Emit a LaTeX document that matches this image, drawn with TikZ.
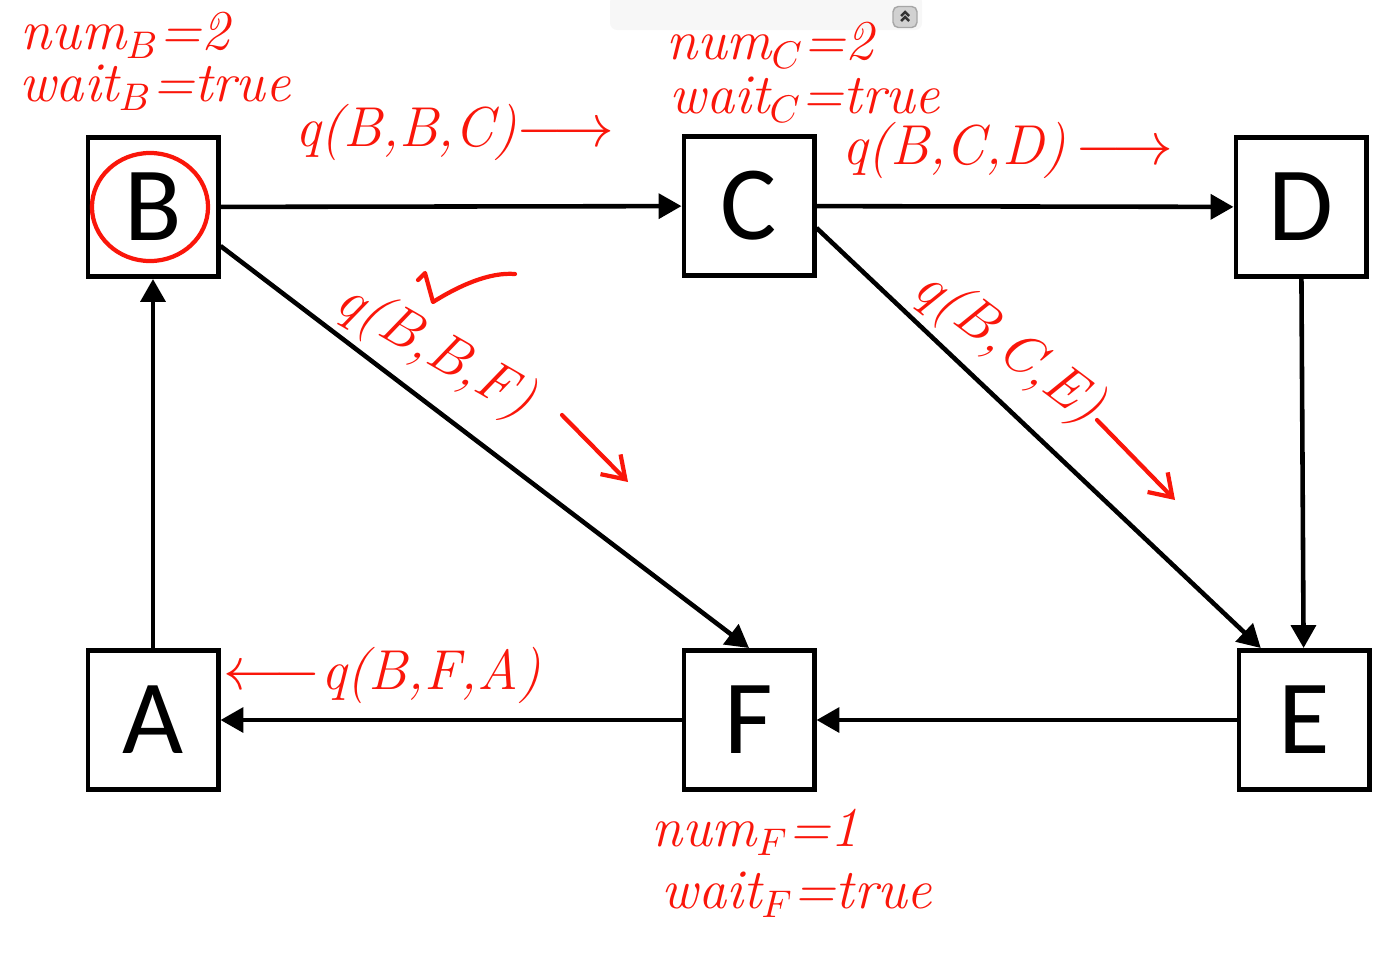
\documentclass[tikz,border=0pt]{standalone}
\usepackage{fontspec}
\newfontfamily\boxfont{Carlito}
\usetikzlibrary{positioning,arrows.meta,shapes.geometric}
\definecolor{ink}{RGB}{250,22,10}
\tikzset{
  vtx/.style={rectangle,draw=black,line width=1.4pt,minimum width=1.3cm,minimum height=1.39cm,
    inner sep=0pt,font=\boxfont\fontsize{30}{32}\selectfont},
  edge/.style={-{Triangle[length=6.5pt,width=7pt]},line width=1.3pt},
  note/.style={text=ink,font=\fontsize{16}{18}\selectfont\itshape,inner sep=0pt,align=left},
  inkline/.style={draw=ink,line width=1.2pt,line cap=round,line join=round},
  inkarr/.style={inkline,-{Straight Barb[length=6pt,width=8pt]}},
  btn/.style={rectangle,rounded corners=1.5pt,draw=black!35,fill=black!18,minimum width=0.24cm,
    minimum height=0.21cm,inner sep=0pt},
}
\begin{document}
\begin{tikzpicture}[x=0.01cm,y=-0.01cm]
  \useasboundingbox (0,0) rectangle (1389,954);
  % toolbar strip
  \fill[black!3,rounded corners=2pt] (610,-5) rectangle (922,30);
  \node[btn] (up) at (905,17) {};
  \draw[black!80,line width=0.7pt] (901,16)--(905,12)--(909,16) (901,21)--(905,17)--(909,21);
  % processes
  \node[vtx] (B) at (153,207) {B};
  \node[vtx] (C) at (749,206) {C};
  \node[vtx] (D) at (1301,207) {D};
  \node[vtx] (A) at (153,720) {A};
  \node[vtx] (F) at (749,720) {F};
  \node[vtx] (E) at (1304,720) {E};
  % channels
  \draw[edge] (B) -- (C);
  \draw[edge] (C) -- (D);
  \draw[edge] (D) -- (E);
  \draw[edge] (E) -- (F);
  \draw[edge] (F) -- (A);
  \draw[edge] (A) -- (B);
  \draw[edge] (B.-30) -- (F.north);
  \draw[edge] (C.-18) -- (E.121);
  % initiator
  \draw[inkline] (150,207) ellipse [x radius=0.58cm,y radius=0.54cm];
  % handwritten notes
  \node[note] (numB) at (125,35) {num$_B$=2};
  \node[note] (waitB) at (155,88) {wait$_B$=true};
  \node[note] (qBBC) at (455,132) {q(B,B,C)$\longrightarrow$};
  \node[note] (numC) at (770,45) {num$_C$=2};
  \node[note] (waitC) at (805,100) {wait$_C$=true};
  \node[note] (qBCD) at (1008,150) {q(B,C,D)\,$\longrightarrow$};
  \node[note,rotate=-30] (qBBF) at (435,352) {q(B,B,F)};
  \node[note,rotate=-37] (qBCE) at (1008,348) {q(B,C,E)};
  \node[note] (qBFA) at (382,675) {$\longleftarrow$q(B,F,A)};
  \node[note] (numF) at (755,832) {num$_F$=1};
  \node[note] (waitF) at (797,895) {wait$_F$=true};
  % tick and message arrows
  \draw[inkline] (418,280) -- (425,273) -- (433,302) .. controls (460,285) and (490,272) .. (515,274);
  \coordinate (bbfS) at (562,415);
  \coordinate (bbfE) at (628,482);
  \draw[inkarr] (bbfS) -- (bbfE);
  \coordinate (bceS) at (1097,420);
  \coordinate (bceE) at (1175,500);
  \draw[inkarr] (bceS) -- (bceE);
\end{tikzpicture}
\end{document}
